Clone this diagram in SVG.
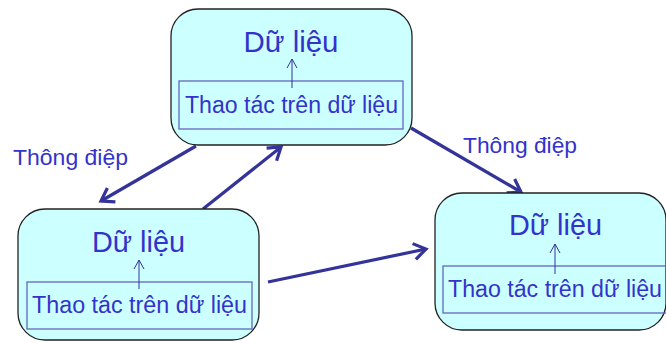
<svg xmlns="http://www.w3.org/2000/svg" width="666" height="343" viewBox="0 0 666 343">
<defs>
<style>
.node{fill:#CCFFFF;stroke:#222;stroke-width:1.3}
.inner{fill:none;stroke:#6666BB;stroke-width:1.3}
.title{font-family:"Liberation Sans","DejaVu Sans",sans-serif;font-size:29px;fill:#3333CC;text-anchor:middle}
.op{font-family:"Liberation Sans","DejaVu Sans",sans-serif;font-size:23.5px;fill:#3333CC}
.lbl{font-family:"Liberation Sans","DejaVu Sans",sans-serif;font-size:22.5px;fill:#3333CC}
.conn{stroke:#333399;stroke-width:3.2;fill:none;marker-end:url(#ah)}
.up{stroke:#333399;stroke-width:1;fill:none;marker-end:url(#sm)}
</style>
<marker id="ah" markerUnits="userSpaceOnUse" markerWidth="20" markerHeight="20" refX="14" refY="10" orient="auto">
<path d="M2,2 L14,10 L2,18" fill="none" stroke="#333399" stroke-width="3.2"/>
</marker>
<marker id="sm" markerUnits="userSpaceOnUse" markerWidth="12" markerHeight="12" refX="10" refY="6" orient="auto">
<path d="M1,1 L10,6 L1,11" fill="none" stroke="#333399" stroke-width="1"/>
</marker>
</defs>
<g id="connectors">
<line class="conn" x1="196" y1="146" x2="101" y2="201"/>
<line class="conn" x1="203" y1="209" x2="281" y2="147"/>
<line class="conn" x1="411" y1="128" x2="521" y2="192"/>
<line class="conn" x1="268" y1="282" x2="426" y2="249"/>
</g>
<g id="node-top">
<rect class="node" x="171" y="9" width="241" height="136" rx="27"/>
<rect class="inner" x="179" y="81" width="224" height="48"/>
<text class="title" x="291" y="52" textLength="95" lengthAdjust="spacingAndGlyphs">Dữ liệu</text>
<line class="up" x1="292" y1="88" x2="292" y2="59"/>
<text class="op" x="185" y="113" textLength="213" lengthAdjust="spacingAndGlyphs">Thao tác trên dữ liệu</text>
</g>
<g id="node-left">
<rect class="node" x="18" y="209" width="241" height="131" rx="27"/>
<rect class="inner" x="27" y="282" width="225" height="47"/>
<text class="title" x="138.5" y="252" textLength="93" lengthAdjust="spacingAndGlyphs">Dữ liệu</text>
<line class="up" x1="139" y1="289" x2="139" y2="260"/>
<text class="op" x="32" y="313" textLength="215" lengthAdjust="spacingAndGlyphs">Thao tác trên dữ liệu</text>
</g>
<g id="node-right">
<rect class="node" x="435" y="193" width="231" height="137" rx="27"/>
<rect class="inner" x="443" y="266" width="230" height="47"/>
<text class="title" x="555.5" y="235" textLength="93" lengthAdjust="spacingAndGlyphs">Dữ liệu</text>
<line class="up" x1="555" y1="274" x2="555" y2="244"/>
<text class="op" x="448" y="297" textLength="214" lengthAdjust="spacingAndGlyphs">Thao tác trên dữ liệu</text>
</g>
<g id="labels">
<text class="lbl" x="13" y="165" textLength="115" lengthAdjust="spacingAndGlyphs">Thông điệp</text>
<text class="lbl" x="463" y="153" textLength="114" lengthAdjust="spacingAndGlyphs">Thông điệp</text>
</g>
</svg>
